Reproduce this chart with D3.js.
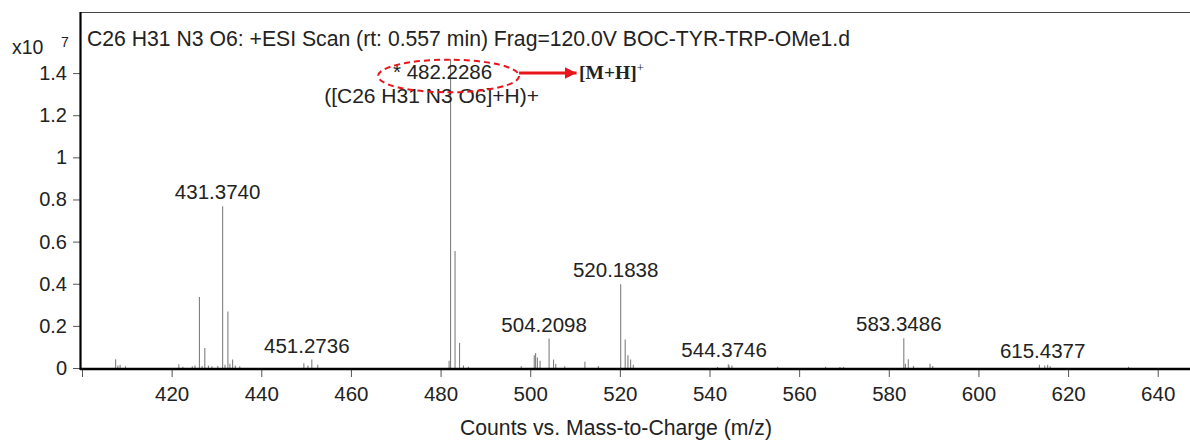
<!DOCTYPE html>
<html>
<head>
<meta charset="utf-8">
<script src="https://cdn.jsdelivr.net/npm/d3@7"></script>
<style>
  html, body { margin: 0; padding: 0; background: #fff; }
  svg { display: block; }
  text { font-family: "Liberation Sans", Arial, sans-serif; fill: #222; }
</style>
</head>
<body>
<svg id="chart" width="1190" height="444"></svg>
<script>
// Spectrum peaks: m/z and intensity (counts, x10^7)
const peakMz = [
  407.5, 408.0, 408.5, 409.7,
  421.6, 422.5, 424.6, 425.2, 426.2, 426.8, 427.4, 428.2, 429.0, 430.3,
  431.374, 431.9, 432.55, 433.0, 433.6, 434.2, 435.2,
  449.5, 450.4, 451.2736, 452.6,
  481.9, 482.2286, 483.23, 484.23, 485.1, 486.2,
  498.0, 500.9, 501.2, 501.6, 502.2, 504.2098, 505.2, 505.7, 507.7,
  512.2, 515.2, 520.1838, 521.19, 521.8, 522.4, 523.0,
  541.8, 544.2, 544.3746, 545.0, 555.2, 565.9, 569.1, 569.9,
  583.3486, 583.7, 584.35, 585.5, 589.2, 589.8,
  613.6, 614.8, 615.4377, 616.0, 633.5
];
const peakIntensity = [
  0.041, 0.012, 0.015, 0.008,
  0.018, 0.006, 0.008, 0.012, 0.337, 0.010, 0.095, 0.012, 0.008, 0.010,
  0.768, 0.015, 0.268, 0.020, 0.040, 0.012, 0.008,
  0.022, 0.012, 0.040, 0.015,
  0.035, 1.467, 0.556, 0.119, 0.012, 0.006,
  0.008, 0.060, 0.071, 0.050, 0.035, 0.140, 0.040, 0.020, 0.008,
  0.030, 0.010, 0.398, 0.135, 0.060, 0.040, 0.015,
  0.005, 0.018, 0.012, 0.012, 0.006, 0.006, 0.005, 0.005,
  0.141, 0.020, 0.041, 0.010, 0.020, 0.010,
  0.015, 0.012, 0.015, 0.008, 0.006
];

// Annotated peaks (label text is the m/z)
const labelMz = [431.3740, 451.2736, 504.2098, 520.1838, 544.3746, 583.3486, 615.4377];
const labelText = ["431.3740", "451.2736", "504.2098", "520.1838", "544.3746", "583.3486", "615.4377"];
const labelIntensity = [0.768, 0.040, 0.140, 0.398, 0.018, 0.141, 0.015];

// Base peak
const basePeakMz = 482.2286;
const basePeakIntensity = 1.467;
const basePeakLabel = "* 482.2286";
const basePeakFormula = "([C26 H31 N3 O6]+H)+";

const xTicks = [400, 420, 440, 460, 480, 500, 520, 540, 560, 580, 600, 620, 640];
const xTickLabels = ["", "420", "440", "460", "480", "500", "520", "540", "560", "580", "600", "620", "640"];
const yTicks = [0, 0.2, 0.4, 0.6, 0.8, 1, 1.2, 1.4];
const yTickLabels = ["0", "0.2", "0.4", "0.6", "0.8", "1", "1.2", "1.4"];

const titleText = "C26 H31 N3 O6: +ESI Scan (rt: 0.557 min) Frag=120.0V BOC-TYR-TRP-OMe1.d";
const xTitle = "Counts vs. Mass-to-Charge (m/z)";

const svg = d3.select("#chart");
const plotLeft = 81, plotRight = 1190, plotTop = 12, plotBottom = 368;

const x = d3.scaleLinear().domain([399.777, 647.2]).range([plotLeft, plotRight]);
const y = d3.scaleLinear().domain([0, 1.69]).range([plotBottom, plotTop]);

// frame top line
svg.append("line")
  .attr("x1", plotLeft).attr("x2", plotRight)
  .attr("y1", plotTop + 0.5).attr("y2", plotTop + 0.5)
  .attr("stroke", "#444").attr("stroke-width", 1);

// peaks
svg.append("g").selectAll("line")
  .data(peakMz.map((m, i) => ({ mz: m, v: peakIntensity[i] })))
  .join("line")
  .attr("x1", d => x(d.mz)).attr("x2", d => x(d.mz))
  .attr("y1", y(0)).attr("y2", d => y(d.v))
  .attr("stroke", "#808080").attr("stroke-width", 1.1);

// x axis
const xAxis = d3.axisBottom(x)
  .tickValues(xTicks)
  .tickFormat((d, i) => xTickLabels[i])
  .tickSize(8).tickPadding(9).tickSizeOuter(0);
const gx = svg.append("g").attr("transform", `translate(0,${plotBottom + 1})`).call(xAxis);
gx.select(".domain").remove();
gx.selectAll(".tick line").attr("stroke", "#555");
gx.selectAll(".tick text")
  .attr("font-size", 20.5).attr("fill", "#222")
  .style("font-family", "'Liberation Sans', Arial, sans-serif");

// y axis
const yAxis = d3.axisLeft(y)
  .tickValues(yTicks)
  .tickFormat((d, i) => yTickLabels[i])
  .tickSize(7).tickPadding(6).tickSizeOuter(0);
const gy = svg.append("g").attr("transform", `translate(${plotLeft - 1},0)`).call(yAxis);
gy.select(".domain").remove();
gy.selectAll(".tick line").attr("stroke", "#555");
gy.selectAll(".tick text")
  .attr("font-size", 20).attr("fill", "#222")
  .style("font-family", "'Liberation Sans', Arial, sans-serif");

// axis lines
svg.append("line")
  .attr("x1", plotLeft - 1).attr("x2", plotRight)
  .attr("y1", plotBottom + 1).attr("y2", plotBottom + 1)
  .attr("stroke", "#000").attr("stroke-width", 2.6);
svg.append("line")
  .attr("x1", plotLeft - 0.5).attr("x2", plotLeft - 0.5)
  .attr("y1", plotTop).attr("y2", plotBottom + 2)
  .attr("stroke", "#000").attr("stroke-width", 2.2);

// exponent label
svg.append("text").attr("x", 12).attr("y", 54).attr("font-size", 19.5).text("x10");
svg.append("text").attr("x", 61).attr("y", 47).attr("font-size", 14).text("7");

// title
svg.append("text").attr("x", 87).attr("y", 46).attr("font-size", 21.2).text(titleText);

// peak labels
svg.append("g").selectAll("text")
  .data(labelMz.map((m, i) => ({ mz: m, t: labelText[i], v: labelIntensity[i] })))
  .join("text")
  .attr("x", d => x(d.mz) - 5)
  .attr("y", d => y(d.v) - 7)
  .attr("text-anchor", "middle")
  .attr("font-size", 20.5)
  .text(d => d.t);

// base peak labels
const bx = x(basePeakMz), by = y(basePeakIntensity);
svg.append("text").attr("x", bx - 8).attr("y", by + 20)
  .attr("text-anchor", "middle").attr("font-size", 20.5).text(basePeakLabel);
svg.append("text").attr("x", bx - 19).attr("y", by + 44)
  .attr("text-anchor", "middle").attr("font-size", 21).text(basePeakFormula);

// highlight ellipse and arrow
svg.append("ellipse")
  .attr("cx", bx - 2).attr("cy", by + 17)
  .attr("rx", 70.5).attr("ry", 16.3)
  .attr("fill", "none").attr("stroke", "#e8151b")
  .attr("stroke-width", 2).attr("stroke-dasharray", "6,4");

const defs = svg.append("defs");
defs.append("marker")
  .attr("id", "arrowhead").attr("viewBox", "0 0 10 10")
  .attr("refX", 10).attr("refY", 5)
  .attr("markerWidth", 4).attr("markerHeight", 4)
  .attr("markerUnits", "strokeWidth").attr("orient", "auto")
  .append("path").attr("d", "M0,0 L10,5 L0,10 Z").attr("fill", "#e8151b");

svg.append("line")
  .attr("x1", bx + 68.5).attr("x2", bx + 126)
  .attr("y1", by + 14).attr("y2", by + 14)
  .attr("stroke", "#e8151b").attr("stroke-width", 3)
  .attr("marker-end", "url(#arrowhead)");

const mh = svg.append("text")
  .attr("x", bx + 128.5).attr("y", by + 20)
  .style("font-family", "'Liberation Serif', 'Times New Roman', serif")
  .attr("font-weight", "bold").attr("font-size", 19.5).attr("fill", "#111");
mh.append("tspan").text("[M+H]");
mh.append("tspan").attr("dy", -7).attr("font-size", 12.5).attr("font-weight", "normal").text("+");

// x axis title
svg.append("text")
  .attr("x", 616).attr("y", 435)
  .attr("text-anchor", "middle").attr("font-size", 21.2)
  .text(xTitle);
</script>
</body>
</html>
